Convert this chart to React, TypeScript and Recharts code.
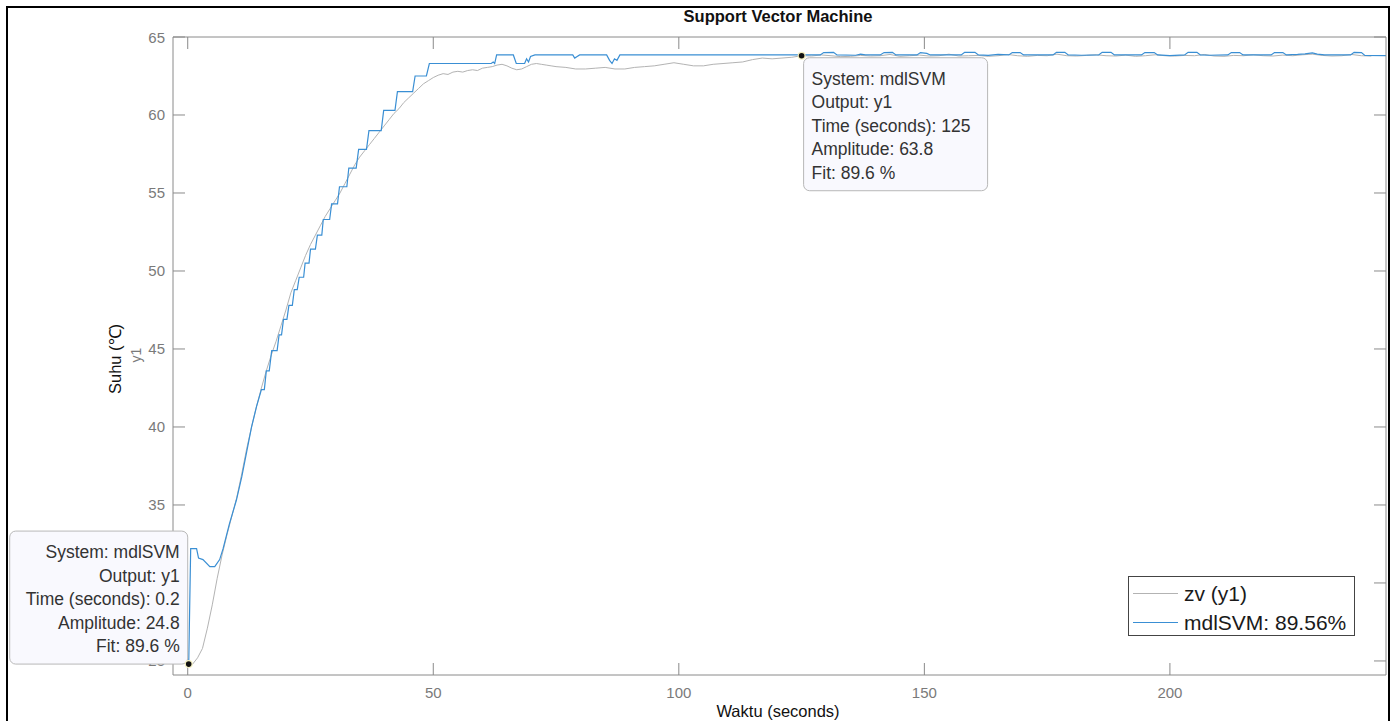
import { Legend, Line, LineChart, ReferenceDot, XAxis, YAxis } from "recharts";

// measured output zv (y1)
const zvTime = [
  0.2, 1, 2, 3, 4, 5, 6, 7, 8, 9, 10, 11, 12, 13, 14, 15, 16, 17, 18, 19, 20, 21, 22, 23, 24, 25, 26, 27, 28, 29,
  30, 31, 32, 33, 34, 35, 36, 37, 38, 39, 40, 41, 42, 43, 44, 45, 46, 47, 48, 49, 50, 51, 52, 53, 54, 55, 56, 57,
  58, 59, 60, 61, 62, 63, 64, 65, 66, 67, 68, 69, 70, 71, 72, 73, 74, 75, 77, 79, 81, 83, 85, 87, 89, 91, 93, 95,
  97, 99, 101, 103, 105, 107, 109, 111, 113, 115, 117, 119, 121, 123, 125, 127, 129, 131, 133, 135, 137, 139, 141,
  143, 145, 147, 149, 151, 153, 155, 157, 159, 161, 163, 165, 167, 169, 171, 173, 175, 177, 179, 181, 183, 185, 187,
  189, 191, 193, 195, 197, 199, 201, 203, 205, 207, 209, 211, 213, 215, 217, 219, 221, 223, 225, 227, 229, 231, 233,
  235, 237, 239, 241, 244,
];
const zvTemp = [
  24.8, 24.8, 25.2, 25.8, 27.1, 28.6, 30.3, 31.8, 33.1, 34.3, 35.5, 37.0, 38.6, 40.0, 41.3, 42.5, 43.6, 44.6, 45.5,
  46.5, 47.5, 48.6, 49.4, 50.2, 51.0, 51.7, 52.3, 52.9, 53.5, 54.0, 54.5, 55.0, 55.6, 56.2, 56.8, 57.3, 57.7, 58.1,
  58.5, 58.9, 59.3, 59.7, 60.1, 60.4, 60.8, 61.1, 61.4, 61.7, 62.0, 62.2, 62.4, 62.55, 62.65, 62.6, 62.75, 62.8,
  62.75, 62.85, 62.9, 62.85, 63.0, 63.05, 63.1, 63.2, 63.25, 63.15, 63.0, 62.9, 62.95, 63.1, 63.25, 63.3, 63.25,
  63.2, 63.15, 63.1, 63.05, 62.95, 62.95, 63.0, 63.05, 62.95, 62.95, 63.05, 63.1, 63.15, 63.25, 63.35, 63.25, 63.15,
  63.15, 63.25, 63.3, 63.35, 63.4, 63.55, 63.65, 63.6, 63.65, 63.7, 63.8, 63.78, 63.85, 63.8, 63.74, 63.76, 63.82,
  63.78, 63.8, 63.88, 63.76, 63.8, 63.84, 63.78, 63.8, 63.9, 63.78, 63.8, 63.82, 63.76, 63.8, 63.88, 63.8, 63.76,
  63.82, 63.8, 63.9, 63.8, 63.78, 63.82, 63.86, 63.8, 63.78, 63.84, 63.76, 63.8, 63.86, 63.8, 63.78, 63.82, 63.8,
  63.88, 63.78, 63.76, 63.82, 63.8, 63.86, 63.8, 63.78, 63.84, 63.8, 63.86, 63.9, 63.82, 63.78, 63.8, 63.88, 63.8,
  63.78,
];

// simulated output of mdlSVM
const svmTime = [
  0.2, 0.6, 1.8, 2.2, 3.1, 4.5, 5.5, 6.5, 7.2, 8.5, 9.9, 11, 12, 13, 14, 15, 15.6, 16.0, 16.6, 17.1, 18.2, 18.6, 19.1,
  19.5, 20.2, 20.6, 21.3, 21.7, 22.3, 22.7, 23.6, 23.9, 24.7, 25.0, 26.0, 26.4, 27.3, 27.6, 28.9, 29.3, 30.5, 30.9,
  32.4, 32.8, 34.3, 34.8, 36.4, 36.9, 39.4, 39.9, 42.2, 42.7, 45.8, 46.3, 48.6, 49.2, 61.8, 62.2, 62.5, 62.9, 66.3,
  66.9, 68.6, 69.0, 69.4, 69.8, 70.7, 78.4, 78.8, 79.3, 79.8, 85.3, 85.9, 86.4, 86.9, 87.4, 88.0, 125, 128.8, 129.5,
  131.5, 132.2, 136, 137, 138, 141, 141.8, 143.5, 144.2, 148.5, 149.2, 150.5, 151.2, 157.5, 158.2, 160.3, 161, 163,
  165, 167.2, 167.9, 169.5, 170.2, 176.2, 176.9, 178.6, 179.3, 182, 185.5, 186.2, 188, 188.7, 194.2, 194.9, 196.8,
  197.5, 200, 203, 203.7, 205.5, 206.2, 208, 211.8, 212.5, 214.2, 214.9, 220.6, 221.3, 223, 223.7, 226, 227.5, 229,
  230, 231.5, 236.8, 237.5, 239, 239.7, 244,
];
const svmTemp = [
  24.8, 32.2, 32.2, 31.6, 31.5, 31.05, 31.05, 31.5, 32.2, 33.8, 35.3, 36.8, 38.4, 40.0, 41.3, 42.4, 42.4, 43.6, 43.6,
  44.9, 44.9, 45.9, 45.9, 46.9, 46.9, 47.8, 47.8, 48.8, 48.8, 49.6, 49.6, 50.5, 50.5, 51.4, 51.4, 52.3, 52.3, 53.3,
  53.3, 54.3, 54.3, 55.4, 55.4, 56.6, 56.6, 57.8, 57.8, 59.0, 59.0, 60.3, 60.3, 61.5, 61.5, 62.5, 62.5, 63.3, 63.3,
  63.4, 63.3, 63.85, 63.85, 63.3, 63.3, 63.6, 63.4, 63.75, 63.85, 63.85, 63.65, 63.75, 63.85, 63.85, 63.5, 63.3, 63.6,
  63.5, 63.85, 63.85, 63.85, 64.0, 64.02, 63.85, 63.83, 63.9, 63.85, 63.85, 64.0, 64.02, 63.85, 63.85, 64.0, 63.95,
  63.85, 63.85, 64.02, 64.02, 63.85, 63.82, 63.88, 63.85, 64.0, 64.0, 63.85, 63.85, 64.02, 64.02, 63.85, 63.83,
  63.85, 64.02, 64.02, 63.85, 63.85, 64.0, 64.0, 63.85, 63.8, 63.85, 64.02, 64.02, 63.85, 63.83, 63.85, 64.0, 64.0,
  63.85, 63.85, 64.0, 64.0, 63.85, 63.88, 63.92, 63.98, 63.9, 63.85, 63.85, 64.02, 64.0, 63.82, 63.8,
];

const xTicks = [0, 50, 100, 150, 200];
const yTicks = [25, 30, 35, 40, 45, 50, 55, 60, 65];
const xDomain = [-3, 244];
const yDomain = [24.1, 65];

const startTip = ["System: mdlSVM", "Output: y1", "Time (seconds): 0.2", "Amplitude: 24.8", "Fit: 89.6 %"];
const settleTip = ["System: mdlSVM", "Output: y1", "Time (seconds): 125", "Amplitude: 63.8", "Fit: 89.6 %"];

const zvData = zvTime.map((t, i) => ({ t, v: zvTemp[i] }));
const svmData = svmTime.map((t, i) => ({ t, v: svmTemp[i] }));

const FONT = "'Liberation Sans', Arial, Helvetica, sans-serif";
const AXIS = "#8a8a8a";
const TICK_TEXT = "#7a7a7a";
const GRAY_LINE = "#b3b3b3";
const BLUE_LINE = "#3a8fd4";

const legendItems = [
  { label: "zv (y1)", color: GRAY_LINE },
  { label: "mdlSVM: 89.56%", color: BLUE_LINE },
];

function LeftTick({ x, y, payload }: any) {
  return (
    <g>
      <line x1={x} y1={y} x2={x + 12} y2={y} stroke={AXIS} />
      <text x={x - 8} y={y} textAnchor="end" dominantBaseline="central" fontSize={15} fontFamily={FONT} fill={TICK_TEXT}>
        {payload.value}
      </text>
    </g>
  );
}

function BottomTick({ x, y, payload }: any) {
  return (
    <g>
      <line x1={x} y1={y} x2={x} y2={y - 12} stroke={AXIS} />
      <text x={x} y={y + 17} textAnchor="middle" dominantBaseline="central" fontSize={15} fontFamily={FONT} fill={TICK_TEXT}>
        {payload.value}
      </text>
    </g>
  );
}

function TopTick({ x, y }: any) {
  return <line x1={x} y1={y} x2={x} y2={y + 12} stroke={AXIS} />;
}

function RightTick({ x, y }: any) {
  return <line x1={x} y1={y} x2={x - 12} y2={y} stroke={AXIS} />;
}

function DataTip({ cx, cy, lines, width, toLeft }: any) {
  const h = 133;
  const left = toLeft ? cx - width - 1 : cx + 2;
  const top = toLeft ? cy - h : cy + 2;
  return (
    <g>
      <rect x={left} y={top} width={width} height={h} rx={6} ry={6} fill="#f9f9fe" stroke="#b8b8b8" />
      {lines.map((s: string, i: number) => (
        <text
          key={i}
          x={toLeft ? left + width - 8 : left + 8}
          y={top + 21 + i * 23.5}
          textAnchor={toLeft ? "end" : "start"}
          dominantBaseline="central"
          fontSize={17.5}
          fontFamily={FONT}
          fill="#333"
        >
          {s}
        </text>
      ))}
      <circle cx={cx} cy={cy} r={4} fill="#f3efc0" />
      <circle cx={cx} cy={cy} r={2.8} fill="#111" />
    </g>
  );
}

function LegendBox() {
  return (
    <div
      style={{
        width: 225,
        height: 58,
        border: "1px solid #444",
        background: "#fff",
        fontFamily: FONT,
        fontSize: 21,
        color: "#1a1a1a",
      }}
    >
      {legendItems.map((p) => (
        <div key={p.label} style={{ display: "flex", alignItems: "center", height: 25, marginTop: 4 }}>
          <div style={{ width: 45, height: 1, background: p.color, marginLeft: 4, marginRight: 6 }} />
          <span style={{ lineHeight: "25px" }}>{p.label}</span>
        </div>
      ))}
    </div>
  );
}

const layer: React.CSSProperties = { position: "absolute", left: 0, top: 0 };

export default function App() {
  return (
    <div style={{ position: "absolute", left: 0, top: 0, width: 1393, height: 721, background: "#fff", overflow: "hidden" }}>
      <div style={layer}>
        <LineChart width={1393} height={721} margin={{ top: 36, right: 6, bottom: 45, left: 172 }}>
          <XAxis
            dataKey="t"
            type="number"
            domain={xDomain}
            ticks={xTicks}
            interval={0}
            allowDataOverflow
            height={1}
            tickSize={0}
            tickMargin={0}
            tickLine={false}
            axisLine={{ stroke: AXIS }}
            tick={<BottomTick />}
          />
          <XAxis
            xAxisId="top"
            dataKey="t"
            type="number"
            orientation="top"
            domain={xDomain}
            ticks={xTicks}
            interval={0}
            allowDataOverflow
            height={1}
            tickSize={0}
            tickMargin={0}
            tickLine={false}
            axisLine={{ stroke: AXIS }}
            tick={<TopTick />}
          />
          <YAxis
            type="number"
            domain={yDomain}
            ticks={yTicks}
            interval={0}
            allowDataOverflow
            width={1}
            tickSize={0}
            tickMargin={0}
            tickLine={false}
            axisLine={{ stroke: AXIS }}
            tick={<LeftTick />}
          />
          <YAxis
            yAxisId="right"
            type="number"
            orientation="right"
            domain={yDomain}
            ticks={yTicks}
            interval={0}
            allowDataOverflow
            width={1}
            tickSize={0}
            tickMargin={0}
            tickLine={false}
            axisLine={{ stroke: AXIS }}
            tick={<RightTick />}
          />
          <Line
            data={zvData}
            dataKey="v"
            name="zv (y1)"
            type="linear"
            stroke={GRAY_LINE}
            strokeWidth={1}
            dot={false}
            activeDot={false}
            isAnimationActive={false}
          />
          <Line
            data={svmData}
            dataKey="v"
            name="mdlSVM: 89.56%"
            type="linear"
            stroke={BLUE_LINE}
            strokeWidth={1.2}
            dot={false}
            activeDot={false}
            isAnimationActive={false}
          />
          <Legend
            layout="horizontal"
            verticalAlign="middle"
            align="center"
            content={<LegendBox />}
            wrapperStyle={{ left: 1128, top: 576, width: 227, height: 60 }}
          />
        </LineChart>
      </div>

      {/* data tips sit in their own layer so they cover the tick labels, as in the reference */}
      <div style={layer}>
        <LineChart width={1393} height={721} margin={{ top: 37, right: 7, bottom: 46, left: 173 }}>
          <XAxis dataKey="t" type="number" domain={xDomain} allowDataOverflow hide />
          <YAxis type="number" domain={yDomain} allowDataOverflow hide />
          <ReferenceDot
            x={0.2}
            y={24.8}
            r={3}
            shape={(p: any) => <DataTip {...p} lines={startTip} width={178} toLeft />}
          />
          <ReferenceDot
            x={125}
            y={63.8}
            r={3}
            shape={(p: any) => <DataTip {...p} lines={settleTip} width={184} toLeft={false} />}
          />
        </LineChart>
      </div>

      <div
        style={{
          position: "absolute",
          left: 778,
          top: 16,
          transform: "translate(-50%, -50%)",
          fontFamily: FONT,
          fontWeight: "bold",
          fontSize: 16.5,
          color: "#111",
          whiteSpace: "nowrap",
        }}
      >
        Support Vector Machine
      </div>
      <div
        style={{
          position: "absolute",
          left: 778,
          top: 711,
          transform: "translate(-50%, -50%)",
          fontFamily: FONT,
          fontSize: 16.5,
          color: "#111",
          whiteSpace: "nowrap",
        }}
      >
        Waktu (seconds)
      </div>
      <div
        style={{
          position: "absolute",
          left: 114,
          top: 359,
          transform: "translate(-50%, -50%) rotate(-90deg)",
          fontFamily: FONT,
          fontSize: 16.5,
          color: "#111",
          whiteSpace: "nowrap",
        }}
      >
        Suhu (℃)
      </div>
      <div
        style={{
          position: "absolute",
          left: 136,
          top: 355,
          transform: "translate(-50%, -50%) rotate(-90deg)",
          fontFamily: FONT,
          fontSize: 14,
          color: TICK_TEXT,
          whiteSpace: "nowrap",
        }}
      >
        y1
      </div>
      <div
        style={{
          position: "absolute",
          left: 6,
          top: 6,
          width: 1380,
          height: 740,
          border: "2px solid #000",
          pointerEvents: "none",
        }}
      />
    </div>
  );
}
